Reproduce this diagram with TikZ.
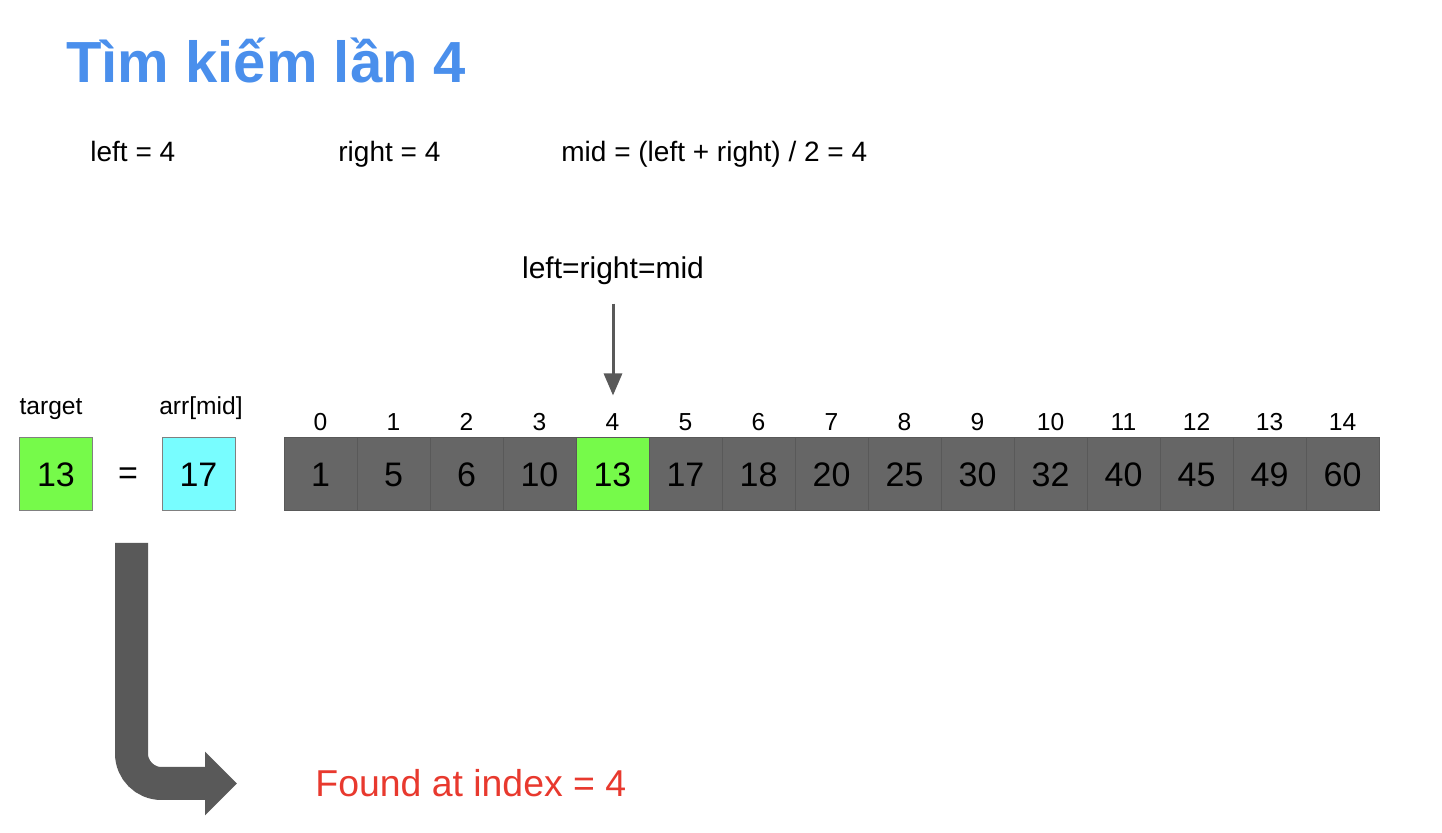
\documentclass[tikz,border=0pt]{standalone}
\usepackage{fontspec}
\setmainfont{Liberation Sans}
\usetikzlibrary{arrows.meta}
\definecolor{titleblue}{HTML}{4A8FEC}
\definecolor{foundred}{HTML}{E8392E}
\definecolor{cellgray}{HTML}{666666}
\definecolor{edgegray}{HTML}{595959}
\definecolor{hitgreen}{HTML}{76FA4A}
\definecolor{midcyan}{HTML}{78FDFF}
\tikzset{
  cell/.style={draw=edgegray, line width=0.5pt, fill=cellgray, minimum size=36.5pt,
    inner sep=0pt, font=\fontsize{17}{20}\selectfont},
  idx/.style={anchor=base, inner sep=0pt, font=\fontsize{12.3}{14}\selectfont},
  info/.style={anchor=base west, inner sep=0pt, font=\fontsize{14}{17}\selectfont},
  pointer/.style={-{Triangle[length=11pt,width=9pt]}, line width=1.5pt, draw=edgegray},
  bigarrow/.style={-{Triangle[length=16pt 0,width=31pt 0]}, line width=16.5pt,
    draw=edgegray, rounded corners=15pt}
}

\begin{document}
\begin{tikzpicture}[x=0.5pt, y=-0.5pt]
  \useasboundingbox (0, 0) rectangle (1442, 833);
  \node[anchor=base west, inner sep=0pt, text=titleblue,
    font=\fontsize{29}{35}\selectfont\bfseries] (title) at (66, 83) {Tìm kiếm lần 4};
  \node[info] (left) at (90, 162) {left = 4};
  \node[info] (right) at (338, 162) {right = 4};
  \node[info] (mid) at (561, 162) {mid = (left + right) / 2 = 4};

  \foreach \v [count=\i from 0] in {1, 5, 6, 10, 13, 17, 18, 20, 25, 30, 32, 40, 45, 49, 60} {
    \node[cell] (c\i) at (284 + 73*\i + 36.5, 474.5) {\v};
    \node[idx] (i\i) at (284 + 73*\i + 36.5, 431) {\i};
  }
  \node[cell, fill=hitgreen] (c4) at (c4) {13};

  \node[cell, fill=hitgreen, draw=gray] (tgt) at (56, 474.5) {13};
  \node[cell, fill=midcyan, draw=gray] (amid) at (198.5, 474.5) {17};
  \node[anchor=base, inner sep=0pt, font=\fontsize{17}{20}\selectfont] (eq) at (128, 485) {=};
  \node[idx] (tgtlabel) at (51, 415) {target};
  \node[idx] (amidlabel) at (201, 415) {arr[mid]};

  \node[anchor=base, inner sep=0pt, font=\fontsize{15}{18}\selectfont] (lrm) at (613, 279) {left=right=mid};
  \draw[pointer, shorten <=9pt, shorten >=21pt] (lrm.south) -- (lrm.south |- c4.north);

  \coordinate (bendtop) at (131.5, 543);
  \coordinate (bendend) at (237, 783.5);
  \draw[bigarrow] (bendtop) |- (bendend);
  \node[anchor=base west, inner sep=0pt, text=foundred,
    font=\fontsize{18.7}{22}\selectfont] (found) at (315, 797) {Found at index = 4};
\end{tikzpicture}
\end{document}
